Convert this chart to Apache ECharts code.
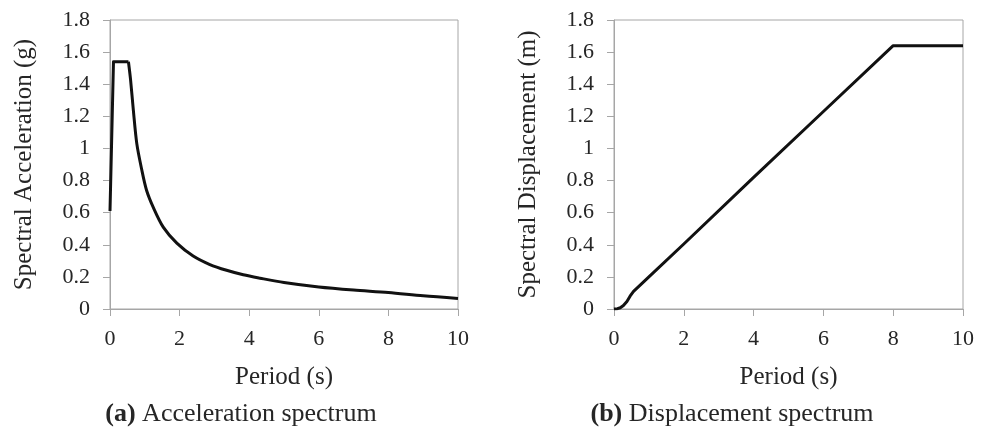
<!DOCTYPE html>
<html>
<head>
<meta charset="utf-8">
<script src="https://cdn.jsdelivr.net/npm/echarts@6/dist/echarts.min.js"></script>
<style>
  html, body { margin: 0; padding: 0; background: #fff; }
  #chart { width: 986px; height: 436px; }
</style>
</head>
<body>
<div id="chart"></div>
<script>
// Acceleration spectrum
const accPeriod = [0, 0.1, 0.53, 0.59, 0.67, 0.77, 0.91, 1.05, 1.25, 1.53, 1.92, 2.39, 2.87, 3.35, 3.83, 4.31, 5.0, 6.0, 7.0, 8.0, 9.0, 10.0];
const accValue  = [0.61, 1.54, 1.54, 1.43, 1.24, 1.03, 0.87, 0.74, 0.63, 0.51, 0.41, 0.33, 0.277, 0.241, 0.213, 0.192, 0.165, 0.137, 0.118, 0.103, 0.082, 0.066];
const accPlateauEnd = 2; // index where the flat top ends and the curved decay starts

// Displacement spectrum
const dispPeriod = [0, 0.1, 0.18, 0.27, 0.37, 0.46, 0.56, 1.0, 2.0, 4.0, 6.0, 8.0, 10.0];
const dispValue  = [0, 0.002, 0.008, 0.022, 0.047, 0.08, 0.11, 0.2, 0.405, 0.82, 1.23, 1.64, 1.64];

const xTicks = [0, 2, 4, 6, 8, 10];
const yTicks = [0, 0.2, 0.4, 0.6, 0.8, 1, 1.2, 1.4, 1.6, 1.8];

const captions = [
  { tag: '(a)', text: ' Acceleration spectrum' },
  { tag: '(b)', text: ' Displacement spectrum' }
];
const yNames = ['Spectral Acceleration (g)', 'Spectral Displacement (m)'];
const xName = 'Period (s)';

const FONT = '"Liberation Serif", "DejaVu Serif", serif';
const GRAY = '#a6a6a6';
const TEXT = '#262626';

const pair = (xs, ys) => xs.map((x, i) => [x, ys[i]]);

const chart = echarts.init(document.getElementById('chart'), null, { renderer: 'canvas' });

const xAxisBase = (gridIndex) => ({
  type: 'value',
  gridIndex,
  min: xTicks[0],
  max: xTicks[xTicks.length - 1],
  interval: 2,
  name: xName,
  nameLocation: 'middle',
  nameGap: 56,
  nameTextStyle: { color: TEXT, fontFamily: FONT, fontSize: 25 },
  axisLine: { show: true, lineStyle: { color: GRAY, width: 1 } },
  axisTick: { show: true, inside: false, length: 7, lineStyle: { color: GRAY } },
  axisLabel: { color: TEXT, fontFamily: FONT, fontSize: 22, margin: 19 },
  splitLine: { show: false }
});

const yAxisBase = (gridIndex) => ({
  type: 'value',
  gridIndex,
  min: yTicks[0],
  max: yTicks[yTicks.length - 1],
  interval: 0.2,
  name: yNames[gridIndex],
  nameLocation: 'middle',
  nameGap: 73,
  nameTextStyle: { color: TEXT, fontFamily: FONT, fontSize: 25 },
  axisLine: { show: true, lineStyle: { color: GRAY, width: 1 } },
  axisTick: { show: true, inside: false, length: 7, lineStyle: { color: GRAY } },
  axisLabel: { color: TEXT, fontFamily: FONT, fontSize: 22, margin: 20 },
  splitLine: { show: false }
});

const captionTitle = (c, centerX) => ({
  text: '{b|' + c.tag + '}{n|' + c.text + '}',
  left: centerX,
  top: 396,
  textAlign: 'center',
  textStyle: {
    fontWeight: 'normal',
    rich: {
      b: { fontFamily: FONT, fontSize: 26, fontWeight: 'bold', color: TEXT },
      n: { fontFamily: FONT, fontSize: 26, fontWeight: 'normal', color: TEXT }
    }
  }
});

const lineStyle = { color: '#111', width: 3, join: 'round' };
const accPoints = pair(accPeriod, accValue);

const option = {
  backgroundColor: '#fff',
  animation: false,
  title: [captionTitle(captions[0], 236), captionTitle(captions[1], 727)],
  grid: [
    { left: 110, top: 20, width: 348, height: 289, show: true, borderColor: GRAY, borderWidth: 1 },
    { left: 614, top: 20, width: 349, height: 289, show: true, borderColor: GRAY, borderWidth: 1 }
  ],
  xAxis: [xAxisBase(0), xAxisBase(1)],
  yAxis: [yAxisBase(0), yAxisBase(1)],
  series: [
    {
      // ramp + flat top, straight segments
      type: 'line',
      xAxisIndex: 0,
      yAxisIndex: 0,
      data: accPoints.slice(0, accPlateauEnd + 1),
      showSymbol: false,
      lineStyle
    },
    {
      // decaying branch, smoothed
      type: 'line',
      xAxisIndex: 0,
      yAxisIndex: 0,
      data: accPoints.slice(accPlateauEnd),
      showSymbol: false,
      smooth: 0.3,
      lineStyle
    },
    {
      type: 'line',
      xAxisIndex: 1,
      yAxisIndex: 1,
      data: pair(dispPeriod, dispValue),
      showSymbol: false,
      lineStyle
    }
  ]
};

chart.setOption(option);
</script>
</body>
</html>
